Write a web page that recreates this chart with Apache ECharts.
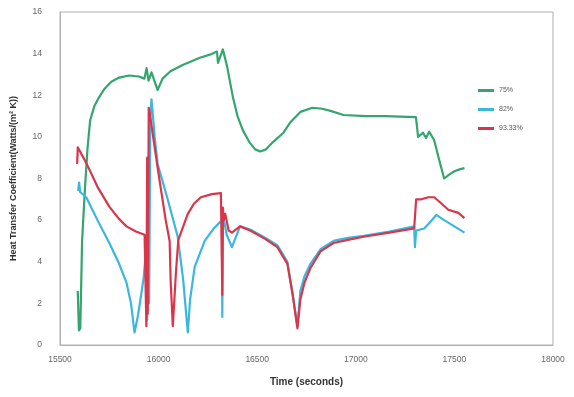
<!DOCTYPE html>
<html>
<head>
<meta charset="utf-8">
<script src="https://cdn.jsdelivr.net/npm/echarts@6/dist/echarts.min.js"></script>
<style>html,body{margin:0;padding:0;background:#fff}#c{width:574px;height:397px}</style>
</head>
<body>
<div id="c"></div>
<script>
const seriesNames = ['75%', '82%', '93.33%'];
const xTicks = { min: 15500, max: 18000, step: 500 };
const yTicks = { min: 0, max: 16, step: 2 };

const green75 = [
  [15590,2.6],[15596,0.7],[15603,0.8],[15612,5.0],[15627,7.6],[15640,9.5],[15653,10.8],[15675,11.5],
  [15698,11.9],[15725,12.3],[15760,12.65],[15800,12.85],[15850,12.95],[15900,12.9],[15928,12.8],
  [15939,13.3],[15949,12.7],[15964,13.1],[15995,12.25],[16020,12.8],[16060,13.15],[16122,13.45],
  [16209,13.8],[16260,13.95],[16296,14.1],[16301,13.55],[16326,14.2],[16347,13.4],[16377,11.9],
  [16400,11.0],[16428,10.3],[16460,9.75],[16490,9.4],[16515,9.3],[16545,9.4],[16580,9.75],
  [16633,10.2],[16668,10.7],[16719,11.2],[16780,11.4],[16830,11.35],[16872,11.25],[16938,11.05],
  [17050,11.0],[17150,11.0],[17305,10.95],[17316,10.0],[17341,10.2],[17356,9.95],[17372,10.25],
  [17397,9.85],[17420,9.0],[17448,8.0],[17475,8.2],[17500,8.35],[17530,8.45],[17551,8.5]
];
const cyan82 = [
  [15592,7.4],[15597,7.8],[15602,7.35],[15633,7.1],[15690,6.0],[15750,4.9],[15800,3.9],[15837,3.0],
  [15860,2.0],[15878,0.6],[15895,1.4],[15913,2.5],[15925,3.3],[15937,4.7],[15942,1.2],[15947,9.0],
  [15952,2.0],[15958,11.0],[15964,11.8],[15980,10.0],[15995,8.7],[16046,7.0],[16097,5.2],
  [16125,3.1],[16148,0.6],[16160,2.2],[16183,3.75],[16234,5.0],[16280,5.6],[16321,6.0],[16323,1.35],
  [16326,6.3],[16345,5.3],[16372,4.7],[16413,5.7],[16464,5.55],[16540,5.15],[16602,4.8],
  [16653,4.0],[16679,2.5],[16704,0.9],[16719,2.6],[16740,3.3],[16770,3.9],[16821,4.6],
  [16887,5.0],[16960,5.15],[17040,5.25],[17170,5.45],[17296,5.7],[17300,4.7],[17306,5.5],
  [17347,5.6],[17372,5.85],[17408,6.25],[17448,6.0],[17500,5.7],[17551,5.4]
];
const red9333 = [
  [15587,8.7],[15590,9.5],[15633,8.75],[15690,7.6],[15750,6.65],[15800,6.05],[15837,5.7],
  [15885,5.45],[15929,5.3],[15935,5.3],[15938,0.9],[15942,9.0],[15945,1.5],[15950,11.4],
  [15954,11.2],[15980,9.5],[16005,7.9],[16036,6.0],[16056,5.0],[16061,3.1],[16072,0.9],
  [16088,3.5],[16100,5.05],[16148,6.3],[16180,6.8],[16214,7.1],[16270,7.25],[16316,7.3],
  [16321,7.3],[16323,2.4],[16326,6.6],[16331,6.0],[16338,6.3],[16355,5.5],[16372,5.4],
  [16413,5.7],[16464,5.5],[16540,5.1],[16602,4.7],[16653,3.9],[16680,2.4],[16704,0.8],
  [16719,2.2],[16740,3.0],[16770,3.7],[16821,4.5],[16887,4.9],[16960,5.05],[17040,5.2],
  [17170,5.4],[17296,5.6],[17306,7.0],[17332,7.0],[17367,7.1],[17398,7.1],[17434,6.8],
  [17469,6.5],[17520,6.35],[17551,6.1]
];

const colors = ['#34a56f', '#3bb6de', '#d8364a'];
const chart = echarts.init(document.getElementById('c'), null, { renderer: 'canvas' });
const mk = (name, data, color) => ({
  name, type: 'line', data, showSymbol: false, symbol: 'none',
  lineStyle: { width: 2.2, color, join: 'round' }, itemStyle: { color }, animation: false
});
chart.setOption({
  animation: false,
  backgroundColor: '#fff',
  grid: { left: 60, right: 21, top: 12, bottom: 52, show: true, borderColor: '#b0b0b0', borderWidth: 1 },
  legend: {
    orient: 'vertical', left: 473, top: 82, itemGap: 12,
    itemWidth: 16, itemHeight: 3, icon: 'rect',
    textStyle: { fontSize: 7, color: '#555', fontFamily: 'Liberation Sans' },
    data: seriesNames
  },
  xAxis: {
    type: 'value', min: xTicks.min, max: xTicks.max, interval: xTicks.step,
    name: 'Time (seconds)', nameLocation: 'middle', nameGap: 32,
    nameTextStyle: { fontSize: 10, fontWeight: 'bold', color: '#333', fontFamily: 'Liberation Sans' },
    axisLine: { lineStyle: { color: '#b0b0b0' } },
    axisTick: { show: false },
    splitLine: { show: false },
    axisLabel: { fontSize: 8.5, color: '#666', margin: 10, fontFamily: 'Liberation Sans', formatter: v => String(v) }
  },
  yAxis: {
    type: 'value', min: yTicks.min, max: yTicks.max, interval: yTicks.step,
    name: 'Heat Transfer Coefficient(Watts/(m² K))', nameLocation: 'middle', nameGap: 42,
    nameTextStyle: { fontSize: 9, fontWeight: 'bold', color: '#333', fontFamily: 'Liberation Sans' },
    axisLine: { show: true, lineStyle: { color: '#b0b0b0' } },
    axisTick: { show: false },
    splitLine: { show: false },
    axisLabel: { fontSize: 8.5, color: '#666', margin: 18, fontFamily: 'Liberation Sans' }
  },
  series: [
    mk(seriesNames[0], green75, colors[0]),
    mk(seriesNames[1], cyan82, colors[1]),
    mk(seriesNames[2], red9333, colors[2])
  ]
});
</script>
</body>
</html>
